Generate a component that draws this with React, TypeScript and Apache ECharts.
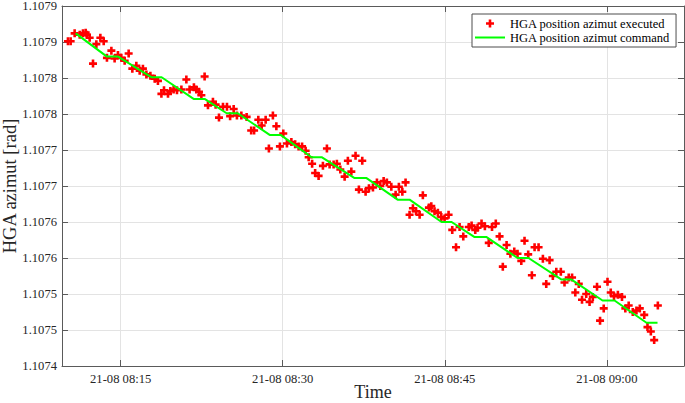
import React, { useEffect, useRef } from 'react';
import * as echarts from 'echarts';

// Time of day on 21-08, in minutes after 08:00
const X_MIN = 9.57;
const X_MAX = 67.14;

const Y_MIN = 1.1074;
const Y_MAX = 1.1079;
const Y_STEP = 0.00005;

const xTickMinutes = [15, 30, 45, 60];
const xTickLabels = ['21-08 08:15', '21-08 08:30', '21-08 08:45', '21-08 09:00'];
const yTickLabels = ['1.1074', '1.1075', '1.1075', '1.1076', '1.1076', '1.1077', '1.1077', '1.1078', '1.1078', '1.1079', '1.1079'];

const executedMinutes = [
  10.12, 10.37, 10.74, 11.21, 11.51, 11.76, 11.88, 12.13, 12.44, 12.75,
  13.12, 13.43, 13.73, 14.14, 14.44, 14.75, 15.06, 15.37, 15.74, 16.08,
  16.45, 16.76, 17.06, 17.38, 17.75, 18.15, 18.45, 18.77, 19.01, 19.38,
  19.60, 19.90, 20.21, 20.62, 21.08, 21.38, 21.78, 22.00, 22.25, 22.47,
  22.77, 23.08, 23.54, 23.79, 24.10, 24.47, 24.84, 25.13, 25.46, 25.76,
  26.17, 26.66, 27.08, 27.35, 27.74, 28.05, 28.42, 28.72, 29.09, 29.41,
  29.74, 30.05, 30.39, 30.80, 31.15, 31.47, 31.79, 32.12, 32.40, 32.72,
  33.00, 33.32, 33.72, 34.09, 34.34, 34.71, 35.01, 35.33, 35.73, 36.03,
  36.35, 36.74, 37.05, 37.36, 37.67, 37.98, 38.35, 38.72, 39.03, 39.34,
  39.64, 40.05, 40.45, 40.75, 41.07, 41.37, 41.74, 42.05, 42.34, 42.67,
  42.97, 43.53, 43.75, 44.05, 44.36, 44.67, 44.98, 45.35, 45.69, 46.04,
  46.37, 46.71, 47.22, 47.48, 47.82, 48.03, 48.40, 48.71, 49.07, 49.37,
  49.72, 50.07, 50.37, 50.72, 51.07, 51.43, 51.73, 52.08, 52.38, 52.72,
  53.06, 53.31, 53.68, 54.08, 54.39, 54.70, 55.00, 55.32, 55.74, 56.08,
  56.47, 56.78, 57.08, 57.40, 57.70, 58.09, 58.40, 58.70, 59.09, 59.37,
  59.71, 60.06, 60.36, 60.66, 61.02, 61.40, 61.71, 62.02, 62.40, 62.74,
  63.05, 63.46, 63.76, 64.07, 64.38, 64.72,
];

const executedAzimuth = [
  1.107851, 1.107851, 1.107862, 1.107860, 1.107862, 1.107863, 1.107860, 1.107856, 1.107820, 1.107847,
  1.107856, 1.107851, 1.107828, 1.107838, 1.107827, 1.107832, 1.107828, 1.107824, 1.107834, 1.107813,
  1.107817, 1.107810, 1.107813, 1.107805, 1.107803, 1.107799, 1.107796, 1.107778, 1.107783, 1.107778,
  1.107782, 1.107784, 1.107783, 1.107784, 1.107798, 1.107784, 1.107787, 1.107784, 1.107781, 1.107776,
  1.107802, 1.107762, 1.107767, 1.107763, 1.107745, 1.107760, 1.107760, 1.107747, 1.107757, 1.107748,
  1.107748, 1.107746, 1.107727, 1.107727, 1.107742, 1.107734, 1.107742, 1.107702, 1.107748, 1.107733,
  1.107705, 1.107723, 1.107709, 1.107711, 1.107708, 1.107705, 1.107705, 1.107699, 1.107690, 1.107681,
  1.107668, 1.107664, 1.107678, 1.107702, 1.107680, 1.107680, 1.107681, 1.107673, 1.107663, 1.107685,
  1.107670, 1.107692, 1.107645, 1.107685, 1.107642, 1.107647, 1.107648, 1.107655, 1.107650, 1.107657,
  1.107655, 1.107649, 1.107638, 1.107649, 1.107642, 1.107655, 1.107610, 1.107619, 1.107615, 1.107610,
  1.107637, 1.107620, 1.107622, 1.107615, 1.107613, 1.107607, 1.107605, 1.107610, 1.107589, 1.107565,
  1.107593, 1.107580, 1.107593, 1.107595, 1.107589, 1.107592, 1.107598, 1.107594, 1.107571, 1.107593,
  1.107598, 1.107580, 1.107538, 1.107568, 1.107556, 1.107559, 1.107556, 1.107546, 1.107574, 1.107555,
  1.107526, 1.107565, 1.107565, 1.107549, 1.107514, 1.107547, 1.107525, 1.107531, 1.107531, 1.107516,
  1.107523, 1.107523, 1.107502, 1.107514, 1.107492, 1.107500, 1.107489, 1.107496, 1.107510, 1.107463,
  1.107480, 1.107517, 1.107502, 1.107497, 1.107499, 1.107496, 1.107480, 1.107484, 1.107475, 1.107477,
  1.107480, 1.107471, 1.107454, 1.107448, 1.107436, 1.107484,
];

const commandMinutes = [
  10.84, 13.70, 14.72, 17.87, 18.79, 21.75, 22.77, 24.81, 25.83, 28.79,
  29.80, 32.67, 33.60, 36.65, 37.76, 40.63, 41.74, 44.70, 45.63, 47.76,
  48.87, 51.73, 52.75, 55.81, 56.73, 59.60, 60.71, 63.67, 64.69,
];

const commandAzimuth = [
  1.107862, 1.107830, 1.107830, 1.107801, 1.107801, 1.107771, 1.107771, 1.107751, 1.107751, 1.107721,
  1.107721, 1.107690, 1.107690, 1.107661, 1.107661, 1.107631, 1.107631, 1.107600, 1.107600, 1.107579,
  1.107579, 1.107550, 1.107550, 1.107520, 1.107520, 1.107491, 1.107491, 1.107460, 1.107460,
];

const PLUS = 'path://M2.7,0H5.3V2.7H8V5.3H5.3V8H2.7V5.3H0V2.7H2.7Z';
const LINE_ICON = 'path://M0,0M0,3H30V5H0ZM30,8';
const FONT = 'Liberation Serif';
const AXIS_COLOR = '#5a5a5a';
const GRID_COLOR = '#e3e3e3';

const xLabel = (v: number) => {
  for (let i = 0; i < xTickMinutes.length; i++) {
    if (Math.abs(v - xTickMinutes[i]) < 0.01) return xTickLabels[i];
  }
  return '';
};
const yLabel = (v: number) => {
  const i = Math.round((v - Y_MIN) / Y_STEP);
  return yTickLabels[i] ?? '';
};

export default function App() {
  const ref = useRef<HTMLDivElement>(null);
  useEffect(() => {
    if (!ref.current) return;
    const chart = echarts.init(ref.current, undefined, { renderer: 'svg' });
    const xCommon = {
      type: 'value' as const,
      min: X_MIN,
      max: X_MAX,
      axisLine: { show: true, onZero: false, lineStyle: { color: AXIS_COLOR, width: 1 } },
      axisTick: { show: true, inside: true, length: 6, customValues: xTickMinutes, lineStyle: { color: AXIS_COLOR } },
      minorTick: { show: false },
    };
    const yCommon = {
      type: 'value' as const,
      min: Y_MIN,
      max: Y_MAX,
      interval: Y_STEP,
      axisLine: { show: true, onZero: false, lineStyle: { color: AXIS_COLOR, width: 1 } },
      axisTick: { show: true, inside: true, length: 6, lineStyle: { color: AXIS_COLOR } },
    };
    chart.setOption({
      animation: false,
      backgroundColor: '#ffffff',
      grid: { left: 62, right: 1, top: 6, bottom: 37, containLabel: false, outerBoundsMode: 'none' },
      legend: {
        orient: 'vertical',
        left: 472,
        top: 14,
        itemWidth: 30,
        itemHeight: 8,
        itemGap: 1,
        padding: [3, 6, 3, 3],
        backgroundColor: '#ffffff',
        borderColor: '#4d4d4d',
        borderWidth: 1,
        textStyle: { fontFamily: FONT, fontSize: 12.5, color: '#000', lineHeight: 12 },
        data: [
          { name: 'HGA position azimut executed' },
          { name: 'HGA position azimut command', icon: LINE_ICON, itemStyle: { color: '#00ff00' } },
        ],
      },
      xAxis: [
        {
          ...xCommon,
          position: 'bottom',
          name: 'Time',
          nameLocation: 'middle',
          nameGap: 17,
          nameMoveOverlap: false,
          nameTextStyle: { fontFamily: FONT, fontSize: 18, color: '#262626' },
          axisLabel: {
            customValues: xTickMinutes,
            formatter: xLabel,
            fontFamily: FONT,
            fontSize: 12.6,
            color: '#262626',
            margin: 6,
            hideOverlap: false,
          },
          splitLine: { show: true, lineStyle: { color: GRID_COLOR, width: 1 } },
        },
        {
          ...xCommon,
          position: 'top',
          axisLabel: { show: false },
          splitLine: { show: false },
        },
      ],
      yAxis: [
        {
          ...yCommon,
          position: 'left',
          name: 'HGA azimut [rad]',
          nameLocation: 'middle',
          nameGap: 43,
          nameMoveOverlap: false,
          nameTextStyle: { fontFamily: FONT, fontSize: 18.5, color: '#262626' },
          axisLabel: { formatter: yLabel, fontFamily: FONT, fontSize: 12.6, color: '#262626', margin: 5 },
          splitLine: { show: true, lineStyle: { color: GRID_COLOR, width: 1 } },
        },
        {
          ...yCommon,
          position: 'right',
          axisLabel: { show: false },
          splitLine: { show: false },
        },
      ],
      series: [
        {
          name: 'HGA position azimut executed',
          type: 'scatter',
          symbol: PLUS,
          symbolSize: 8,
          symbolKeepAspect: true,
          itemStyle: { color: '#ff0000', opacity: 1 },
          data: executedMinutes.map((m, i) => [m, executedAzimuth[i]]),
          z: 2,
        },
        {
          name: 'HGA position azimut command',
          type: 'line',
          symbol: 'none',
          lineStyle: { color: '#00ff00', width: 2 },
          itemStyle: { color: '#00ff00' },
          data: commandMinutes.map((m, i) => [m, commandAzimuth[i]]),
          z: 3,
        },
      ],
    });
    return () => chart.dispose();
  }, []);
  return <div ref={ref} style={{ position: 'absolute', left: 0, top: 0, width: 685, height: 403 }} />;
}
